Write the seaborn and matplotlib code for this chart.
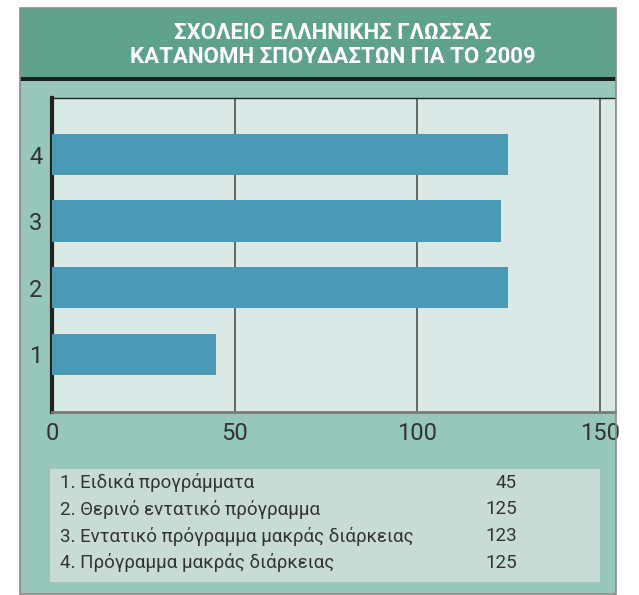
import matplotlib
matplotlib.use("Agg")
import matplotlib.pyplot as plt
from matplotlib.patches import Rectangle
import pandas as pd
import seaborn as sns

# data
title_lines = ["ΣΧΟΛΕΙΟ ΕΛΛΗΝΙΚΗΣ ΓΛΩΣΣΑΣ", "ΚΑΤΑΝΟΜΗ ΣΠΟΥΔΑΣΤΩΝ ΓΙΑ ΤΟ 2009"]
categories = ["1", "2", "3", "4"]
programs = [
    "Ειδικά προγράμματα",
    "Θερινό εντατικό πρόγραμμα",
    "Εντατικό πρόγραμμα μακράς διάρκειας",
    "Πρόγραμμα μακράς διάρκειας",
]
students = [45, 125, 123, 125]
x_ticks = [0, 50, 100, 150]

W, H = 639, 595
HEADER = "#5fa28b"
PANEL = "#97c6bb"
PLOT_BG = "#dbe9e6"
BAR = "#4a9ab5"
TABLE_BG = "#c8dcd5"
TEXT = "#333333"

sns.set_theme(style="white")
plt.rcParams["font.family"] = ["Roboto", "DejaVu Sans"]


def box(x0, y0, x1, y1):
    # pixel box (top-left origin) -> figure fraction rect
    return (x0 / W, 1 - y1 / H), (x1 - x0) / W, (y1 - y0) / H


fig = plt.figure(figsize=(W / 100, H / 100), dpi=100)
fig.patch.set_facecolor("white")

# panel, header and black band
for (x0, y0, x1, y1, col) in [
    (20, 8, 616, 594, PANEL),
    (20, 8, 616, 77, HEADER),
    (20, 77, 616, 81, "#1e1e1e"),
]:
    xy, w, h = box(x0, y0, x1, y1)
    fig.add_artist(Rectangle(xy, w, h, transform=fig.transFigure,
                             facecolor=col, edgecolor="none", zorder=0))
xy, w, h = box(20, 8, 616, 594)
fig.add_artist(Rectangle(xy, w, h, transform=fig.transFigure, facecolor="none",
                         edgecolor="#8a8a8a", linewidth=1.2, zorder=5))

for i, line in enumerate(title_lines):
    fig.text(333 / W, 1 - (33 + i * 24) / H, line, ha="center", va="center",
             color="white", fontsize=16, fontweight="bold")

# bar chart
ax = fig.add_axes([52 / W, 1 - 412 / H, (615 - 52) / W, (412 - 98) / H])
ax.set_facecolor(PLOT_BG)
df = pd.DataFrame({"cat": categories, "value": students})
sns.barplot(data=df, x="value", y="cat", order=categories[::-1], orient="h",
            color=BAR, saturation=1, width=0.62, linewidth=0, edgecolor="none",
            ax=ax, zorder=3)
ax.set_xlim(0, 154.2)
ax.set_ylim(3.87, -0.85)
ax.set_xticks(x_ticks)
ax.set_xticklabels([str(t) for t in x_ticks])
ax.set_xlabel("")
ax.set_ylabel("")
for t in x_ticks[1:]:
    ax.axvline(t, color="#444444", linewidth=1.1, zorder=1)
ax.tick_params(axis="both", length=0, labelsize=17, colors=TEXT)
ax.tick_params(axis="x", pad=7)
ax.tick_params(axis="y", pad=7)
ax.spines["left"].set_color("#222222")
ax.spines["left"].set_linewidth(3)
ax.spines["bottom"].set_color("#7a7a7a")
ax.spines["bottom"].set_linewidth(2)
ax.spines["top"].set_color("#222222")
ax.spines["top"].set_linewidth(1)
ax.spines["right"].set_visible(False)

# value table
xy, w, h = box(50, 469, 600, 582)
fig.add_artist(Rectangle(xy, w, h, transform=fig.transFigure,
                         facecolor=TABLE_BG, edgecolor="none", zorder=1))
for i, (cat, name, val) in enumerate(zip(categories, programs, students)):
    y = 1 - (483 + i * 26.5) / H
    fig.text(60 / W, y, f"{cat}. {name}", ha="left", va="center",
             color=TEXT, fontsize=13.5)
    fig.text(517 / W, y, str(val), ha="right", va="center",
             color=TEXT, fontsize=13.5)

fig.savefig("out.png", dpi=100)
